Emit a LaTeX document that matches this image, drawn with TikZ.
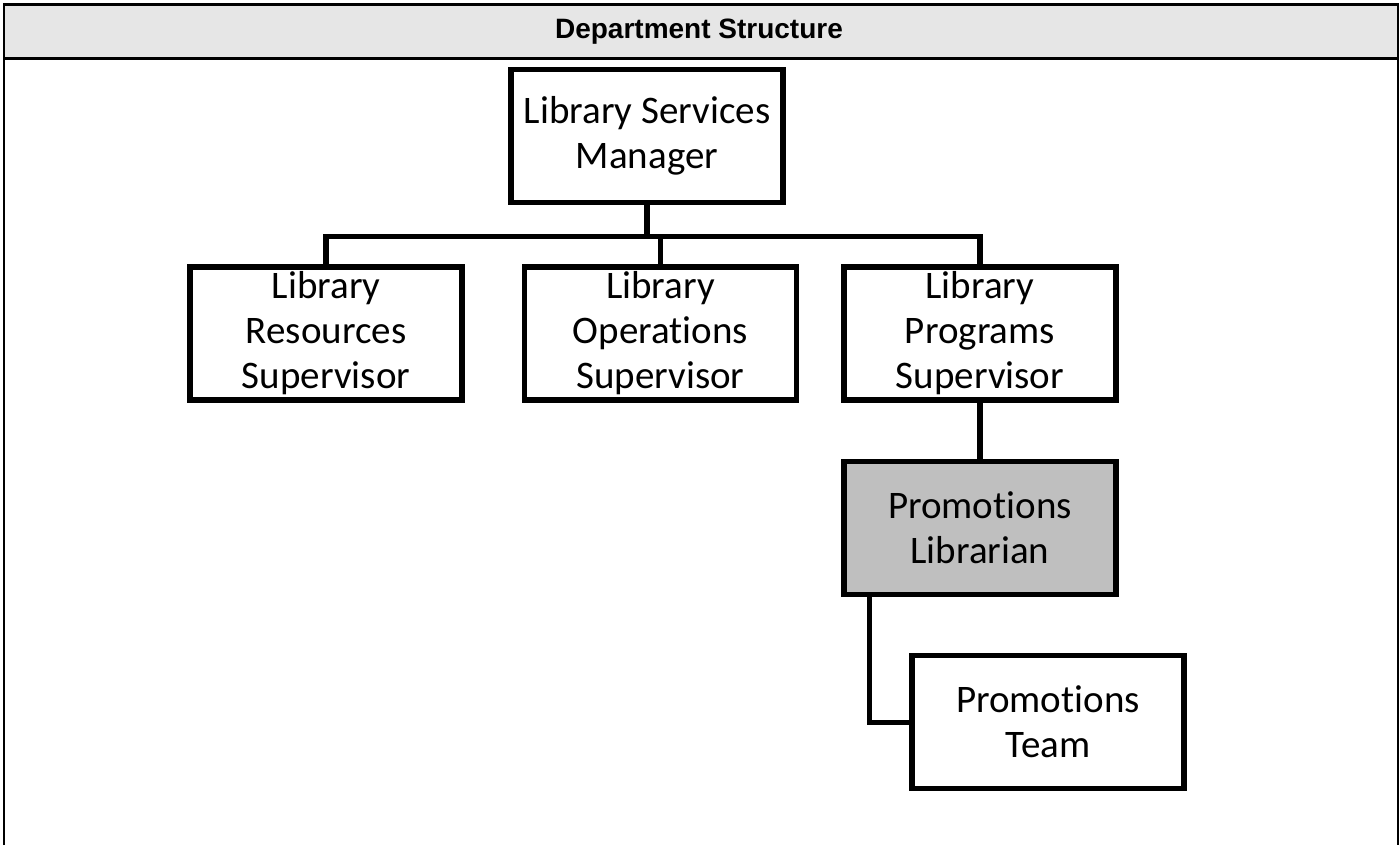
\documentclass[tikz,border=0pt]{standalone}
\usepackage{fontspec}
\setmainfont{Carlito}[Ligatures=NoCommon]
\newfontfamily\headfont{Liberation Sans}
\usetikzlibrary{positioning}
\definecolor{headbg}{RGB}{230,230,230}
\definecolor{selbg}{RGB}{191,191,191}
\tikzset{
  box/.style={draw=black, line width=2.7pt, fill=white, align=center,
    minimum width=136pt, minimum height=66.5pt, inner xsep=2pt, inner ysep=0.5pt,
    font=\fontsize{19.5}{22.5}\selectfont},
  selbox/.style={box, fill=selbg},
  link/.style={draw=black, line width=2.7pt},
  rule/.style={draw=black, line width=1.3pt}
}

\begin{document}
\begin{tikzpicture}[x=0.5pt, y=-0.5pt]
  \useasboundingbox (0,0) rectangle (1400,845);
  % header strip and frame
  \fill[headbg] (4,4.5) rectangle (1398,58.5);
  \draw[rule] (4,845) -- (4,4.5) -- (1398,4.5) -- (1398,845);
  \draw[rule] (4,58.5) -- (1398,58.5);
  \node[font=\headfont\bfseries\fontsize{14}{16}\selectfont] (head) at (699,31.5) {Department Structure};

  \node[box] (mgr) at (647,136) {Library Services\\Manager};
  \node[box, below=29.5pt of mgr, xshift=6.75pt] (ops) {Library\\Operations\\Supervisor};
  \node[box, left=28.5pt of ops] (res) {Library\\Resources\\Supervisor};
  \node[box, right=21pt of ops] (prog) {Library\\Programs\\Supervisor};
  \node[selbox, below=28pt of prog] (prom) {Promotions\\Librarian};
  \node[box, below=28pt of prom, xshift=34pt] (team) {Promotions\\Team};

  % reporting lines
  \draw[link] (mgr.south) -- ++(0,-15.5pt) coordinate (bus);
  \draw[link] (res.north) |- (bus) -| (prog.north);
  \draw[link] (ops.north) -- (ops.north |- bus);
  \draw[link] (prog.south) -- (prom.north);
  \draw[link] (prom.south west) ++(14pt,0) |- (team.west);
\end{tikzpicture}
\end{document}
